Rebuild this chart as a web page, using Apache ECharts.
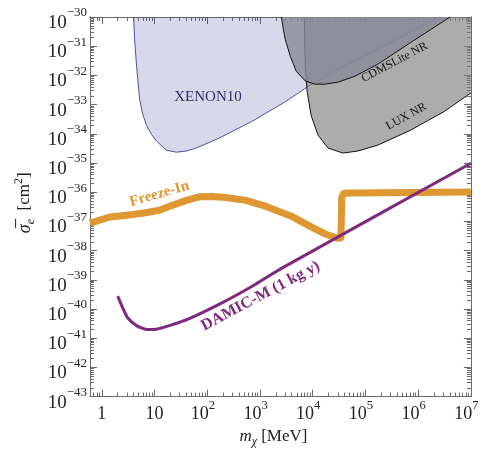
<!DOCTYPE html>
<html><head><meta charset="utf-8">
<script src="https://cdn.jsdelivr.net/npm/echarts@6/dist/echarts.min.js"></script>
<style>html,body{margin:0;padding:0;background:#fff}#c{width:486px;height:453px}</style>
</head><body><div id="c"></div>
<script>
// All values are log10: x = log10(m_chi / MeV), y = log10(sigma_e / cm^2)
const xMin = -0.225, xMax = 7, yMin = -43, yMax = -30;
const xMajorTicks = [0, 1, 2, 3, 4, 5, 6, 7];
const yMajorTicks = [-43, -42, -41, -40, -39, -38, -37, -36, -35, -34, -33, -32, -31, -30];

const xenonLogM     = [0.602, 0.621, 0.659, 0.715, 0.772, 0.847, 0.941, 1.035, 1.223, 1.411, 1.600, 1.788, 2.221, 2.842, 3.481, 3.952, 4.667, 6.417];
const xenonLogSigma = [-30.0, -30.78, -31.69, -32.80, -33.31, -33.71, -34.02, -34.25, -34.56, -34.63, -34.59, -34.49, -34.15, -33.58, -32.90, -32.33, -31.62, -30.0];

const cdmsLogM      = [3.406, 3.444, 3.481, 3.575, 3.688, 3.858, 4.046, 4.234, 4.479, 4.799, 5.231, 5.852, 6.229, 6.605];
const cdmsLogSigma  = [-30.0, -30.44, -30.78, -31.35, -31.86, -32.19, -32.30, -32.30, -32.23, -32.03, -31.62, -30.88, -30.44, -30.0];

const luxLogM       = [3.839, 3.858, 3.895, 3.971, 4.102, 4.291, 4.573, 4.855, 5.231, 5.852, 6.492, 7.0];
const luxLogSigma   = [-30.0, -31.69, -32.57, -33.38, -34.05, -34.49, -34.66, -34.59, -34.39, -33.88, -33.24, -32.60];

const freezeLogM     = [-0.226, 0.151, 0.470, 0.772, 1.091, 1.336, 1.600, 1.844, 2.089, 2.352, 2.729, 3.105, 3.594, 3.970, 4.234, 4.479, 4.535, 4.550, 4.590, 4.760, 7.0];
const freezeLogSigma = [-37.06, -36.85, -36.79, -36.72, -36.62, -36.45, -36.28, -36.16, -36.15, -36.18, -36.28, -36.48, -36.82, -37.19, -37.43, -37.58, -37.56, -36.18, -36.04, -36.03, -35.99];

const damicLogM     = [0.301, 0.395, 0.489, 0.659, 0.847, 1.035, 1.280, 1.656, 2.277, 2.917, 3.406, 7.0];
const damicLogSigma = [-39.56, -39.96, -40.30, -40.57, -40.70, -40.69, -40.57, -40.33, -39.79, -39.15, -38.61, -35.01];

const labelTexts  = ['XENON10', 'CDMSLite NR', 'LUX NR', 'Freeze-In', 'DAMIC-M (1 kg y)'];
const labelLogM   = [2.014, 5.551, 5.777, 1.091, 3.011];
const labelLogSig = [-32.735, -31.553, -33.41, -36.06, -39.556];

const SERIF = "'Liberation Serif', 'DejaVu Serif', serif";
const labelStyles = [
  {rot: 0,  color: '#2d2d5e', font: "normal 15px " + SERIF},
  {rot: 28, color: '#111',    font: "normal 12px " + SERIF},
  {rot: 29, color: '#111',    font: "normal 12px " + SERIF},
  {rot: 16, color: '#df9732', font: "bold 15px " + SERIF},
  {rot: 28, color: '#7e2a7e', font: "bold 16px " + SERIF}
];

function minorTicks(lo, hi) {
  const out = [];
  for (let n = Math.floor(lo) - 1; n <= Math.ceil(hi); n++) {
    for (let k = 2; k <= 9; k++) {
      const v = n + Math.log10(k);
      if (v > lo && v < hi) out.push(v);
    }
  }
  return out;
}
const xMinor = minorTicks(xMin, xMax);
const yMinor = minorTicks(yMin, yMax);

const AX = '#6a6a6a';
function xAxisDef(pos, ticks, len, withLabels) {
  return {
    type: 'value', position: pos, min: xMin, max: xMax,
    axisLine: {show: true, onZero: false, lineStyle: {color: AX, width: 1}},
    axisTick: {show: true, inside: true, length: len, interval: 0, customValues: ticks, lineStyle: {color: AX, width: 1}},
    splitLine: {show: false},
    axisLabel: withLabels ? {
      show: true, customValues: ticks, margin: 3, interval: 0,
      formatter: v => v === 0 ? '{b|1}' : (v === 1 ? '{b|10}' : '{b|10}{s|' + v + '}{p|}'),
      rich: {
        b: {fontSize: 18, fontFamily: SERIF, color: '#222', lineHeight: 24, verticalAlign: 'bottom'},
        s: {fontSize: 12.5, fontFamily: SERIF, color: '#222', lineHeight: 14, verticalAlign: 'top'},
        p: {width: 9}
      }
    } : {show: false, customValues: ticks, interval: 0},
    name: withLabels ? '{i|m}{sub|χ}{n| [MeV]}' : '',
    nameLocation: 'middle', nameGap: 29,
    nameTextStyle: {
      padding: [0, 14, 0, 0],
      rich: {
        i: {fontSize: 17, fontFamily: SERIF, fontStyle: 'italic', color: '#222', lineHeight: 22},
        sub: {fontSize: 12, fontFamily: SERIF, fontStyle: 'italic', color: '#222', lineHeight: 12, verticalAlign: 'bottom'},
        n: {fontSize: 17, fontFamily: SERIF, color: '#222', lineHeight: 22}
      }
    }
  };
}
function yAxisDef(pos, ticks, len, withLabels) {
  return {
    type: 'value', position: pos, min: yMin, max: yMax,
    axisLine: {show: true, onZero: false, lineStyle: {color: AX, width: 1}},
    axisTick: {show: true, inside: true, length: len, interval: 0, customValues: ticks, lineStyle: {color: AX, width: 1}},
    splitLine: {show: false},
    axisLabel: withLabels ? {
      show: true, customValues: ticks, margin: 3, interval: 0, padding: [5, 0, 0, 0],
      formatter: v => '{b|10}{s|−' + (-v) + '}',
      rich: {
        b: {fontSize: 19, fontFamily: SERIF, color: '#222', lineHeight: 26, verticalAlign: 'bottom'},
        s: {fontSize: 13, fontFamily: SERIF, color: '#222', lineHeight: 14, verticalAlign: 'top'}
      }
    } : {show: false, customValues: ticks, interval: 0},
    name: withLabels ? '{i|σ\u0305}{sub|e}{n|  [cm}{sup|2}{n|]}' : '',
    nameLocation: 'middle', nameGap: 47, nameRotate: 90,
    nameTextStyle: {
      padding: [0, 0, 0, 8],
      rich: {
        i: {fontSize: 18, fontFamily: SERIF, fontStyle: 'italic', color: '#222', lineHeight: 24},
        sub: {fontSize: 12, fontFamily: SERIF, fontStyle: 'italic', color: '#222', lineHeight: 12, verticalAlign: 'bottom'},
        n: {fontSize: 17, fontFamily: SERIF, color: '#222', lineHeight: 24},
        sup: {fontSize: 12, fontFamily: SERIF, color: '#222', lineHeight: 12, verticalAlign: 'top'}
      }
    }
  };
}

function regionSeries(xs, ys, extra, fill, stroke, z) {
  return {
    type: 'custom', z: z, silent: true, animation: false,
    data: [[0, 0]],
    renderItem: (params, api) => {
      const pts = xs.map((x, i) => api.coord([x, ys[i]]));
      const poly = pts.concat(extra.map(p => api.coord(p)));
      return {type: 'group', children: [
        {type: 'polygon', shape: {points: poly}, style: {fill: fill, stroke: null}},
        {type: 'polyline', shape: {points: pts}, style: {fill: null, stroke: stroke, lineWidth: 1}}
      ]};
    }
  };
}

const chart = echarts.init(document.getElementById('c'), null, {renderer: 'canvas'});
chart.setOption({
  animation: false,
  backgroundColor: '#fff',
  grid: {left: 90, top: 17, right: 12, bottom: 51, containLabel: false},
  xAxis: [
    xAxisDef('bottom', xMajorTicks, 7, true),
    xAxisDef('bottom', xMinor, 4, false),
    xAxisDef('top', xMajorTicks, 7, false),
    xAxisDef('top', xMinor, 4, false)
  ],
  yAxis: [
    yAxisDef('left', yMajorTicks, 7, true),
    yAxisDef('left', yMinor, 4, false),
    yAxisDef('right', yMajorTicks, 7, false),
    yAxisDef('right', yMinor, 4, false)
  ],
  series: [
    regionSeries(xenonLogM, xenonLogSigma, [], 'rgba(60,60,150,0.2)', '#5050a0', 1),
    regionSeries(luxLogM, luxLogSigma, [[xMax, yMax]], 'rgba(128,128,128,0.65)', '#111', 2),
    regionSeries(cdmsLogM, cdmsLogSigma, [], 'rgba(138,138,154,0.8)', '#111', 3),
    {
      type: 'line', z: 5, data: freezeLogM.map((x, i) => [x, freezeLogSigma[i]]),
      showSymbol: false, symbol: 'none', smooth: false, clip: true,
      lineStyle: {color: '#df9732', width: 7, join: 'round', cap: 'butt'}
    },
    {
      type: 'line', z: 6, data: damicLogM.map((x, i) => [x, damicLogSigma[i]]),
      showSymbol: false, symbol: 'none', smooth: 0.2, clip: true,
      lineStyle: {color: '#7e2a7e', width: 3, join: 'round'}
    },
    {
      type: 'custom', z: 10, silent: true, animation: false,
      data: labelTexts.map((t, i) => [labelLogM[i], labelLogSig[i]]),
      renderItem: (params, api) => {
        const i = params.dataIndex;
        const p = api.coord([api.value(0), api.value(1)]);
        const st = labelStyles[i];
        return {
          type: 'text', x: p[0], y: p[1], rotation: st.rot * Math.PI / 180,
          style: {text: labelTexts[i], fill: st.color, font: st.font, align: 'center', verticalAlign: 'middle'}
        };
      }
    }
  ]
});
</script>
</body></html>
